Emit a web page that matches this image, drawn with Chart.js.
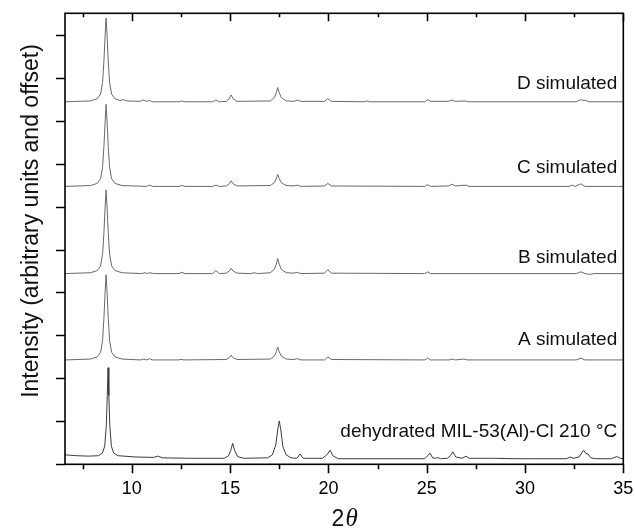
<!DOCTYPE html>
<html>
<head>
<meta charset="utf-8">
<script src="https://cdn.jsdelivr.net/npm/chart.js@4.4.0/dist/chart.umd.min.js"></script>
<style>
  html, body { margin: 0; padding: 0; background: #fff; }
  #wrap { width: 635px; height: 529px; }
</style>
</head>
<body>
<div id="wrap"><canvas id="xrdChart" width="635" height="529"></canvas></div>
<script>
// 2theta (deg) / intensity pairs, intensity measured from each pattern's own baseline
const dehydrated = [
  [6.6, 0.22], [7.2, 0.2], [7.8, 0.19], [8.3, 0.2], [8.5, 0.26], [8.62, 0.42], [8.7, 0.9], [8.75, 1.6],
  [8.79, 2.25], [8.83, 1.6], [8.88, 0.9], [8.96, 0.42], [9.08, 0.26], [9.3, 0.2], [10.2, 0.17], [11.1, 0.16],
  [11.32, 0.19], [11.55, 0.15], [13.0, 0.14], [14.7, 0.14], [14.92, 0.2], [15.03, 0.32], [15.13, 0.49],
  [15.23, 0.32], [15.38, 0.18], [15.7, 0.14], [16.9, 0.15], [17.15, 0.22], [17.32, 0.45], [17.42, 0.8],
  [17.5, 1.01], [17.58, 0.8], [17.68, 0.42], [17.85, 0.22], [18.1, 0.15], [18.4, 0.14], [18.56, 0.24],
  [18.72, 0.14], [19.7, 0.14], [19.92, 0.22], [20.09, 0.33], [20.22, 0.2], [20.5, 0.13], [22.0, 0.13],
  [24.9, 0.13], [25.05, 0.2], [25.17, 0.26], [25.3, 0.15], [25.45, 0.14], [25.56, 0.16], [25.7, 0.13],
  [26.05, 0.14], [26.2, 0.2], [26.33, 0.29], [26.48, 0.17], [26.8, 0.14], [27.0, 0.19], [27.15, 0.14],
  [28.4, 0.14], [29.5, 0.13], [30.5, 0.13], [32.1, 0.13], [32.3, 0.17], [32.45, 0.14], [32.75, 0.17],
  [32.98, 0.33], [33.1, 0.25], [33.2, 0.24], [33.35, 0.15], [33.6, 0.13], [34.4, 0.13], [34.67, 0.18],
  [34.85, 0.14], [35.0, 0.13]
];

const aSim = [
  [6.6, 0.0], [7.9, 0.02], [8.24, 0.07], [8.41, 0.18], [8.51, 0.45], [8.58, 0.97], [8.64, 1.58], [8.69, 1.98],
  [8.74, 1.58], [8.8, 0.97], [8.87, 0.45], [8.97, 0.18], [9.14, 0.07], [9.5, 0.02], [10.45, 0.0], [10.6, 0.02],
  [10.75, 0.0], [10.9, 0.03], [11.05, 0.0], [12.35, 0.0], [12.5, 0.01], [12.65, 0.0], [14.8, 0.01],
  [14.95, 0.05], [15.05, 0.11], [15.15, 0.05], [15.35, 0.01], [17.05, 0.02], [17.25, 0.09], [17.35, 0.19],
  [17.42, 0.3], [17.5, 0.19], [17.6, 0.09], [17.85, 0.02], [18.25, 0.01], [18.42, 0.03], [18.6, 0.0],
  [19.8, 0.0], [19.97, 0.07], [20.15, 0.01], [24.9, 0.0], [25.04, 0.04], [25.2, 0.0], [26.15, 0.0],
  [26.3, 0.02], [26.45, 0.0], [26.9, 0.02], [27.05, 0.0], [32.6, 0.0], [32.84, 0.04], [33.05, 0.0], [35.0, 0.0]
];

const bSim = [
  [6.6, 0.0], [7.9, 0.02], [8.24, 0.07], [8.41, 0.18], [8.51, 0.45], [8.58, 0.95], [8.64, 1.55], [8.69, 1.95],
  [8.74, 1.55], [8.8, 0.95], [8.87, 0.45], [8.97, 0.18], [9.14, 0.07], [9.5, 0.02], [10.5, 0.0], [10.67, 0.02],
  [10.8, 0.0], [10.93, 0.02], [11.1, 0.0], [12.4, 0.0], [12.54, 0.03], [12.7, 0.0], [14.1, 0.0], [14.28, 0.07],
  [14.45, 0.0], [14.8, 0.01], [14.95, 0.06], [15.05, 0.12], [15.15, 0.06], [15.35, 0.01], [16.05, 0.0],
  [16.22, 0.02], [16.4, 0.0], [17.05, 0.02], [17.25, 0.1], [17.35, 0.22], [17.42, 0.35], [17.5, 0.22],
  [17.6, 0.1], [17.85, 0.02], [18.25, 0.01], [18.42, 0.03], [18.6, 0.0], [19.8, 0.01], [19.97, 0.09],
  [20.15, 0.01], [24.9, 0.0], [25.04, 0.04], [25.2, 0.0], [32.6, 0.0], [32.84, 0.04], [33.05, 0.0],
  [33.3, -0.02], [33.5, 0.0], [35.0, 0.0]
];

const cSim = [
  [6.6, 0.0], [7.9, 0.02], [8.24, 0.07], [8.41, 0.18], [8.51, 0.44], [8.58, 0.93], [8.64, 1.5], [8.69, 1.91],
  [8.74, 1.5], [8.8, 0.93], [8.87, 0.44], [8.97, 0.18], [9.14, 0.07], [9.5, 0.02], [10.75, 0.0], [10.9, 0.03],
  [11.05, 0.0], [12.4, 0.0], [12.54, 0.02], [12.7, 0.0], [14.1, 0.0], [14.28, 0.03], [14.45, 0.0],
  [14.8, 0.01], [14.95, 0.06], [15.05, 0.13], [15.15, 0.06], [15.35, 0.01], [17.05, 0.02], [17.25, 0.09],
  [17.35, 0.18], [17.42, 0.28], [17.5, 0.18], [17.6, 0.09], [17.85, 0.02], [18.25, 0.01], [18.42, 0.03],
  [18.6, 0.0], [19.8, 0.01], [19.97, 0.07], [20.15, 0.01], [24.9, 0.0], [25.04, 0.04], [25.2, 0.0],
  [26.1, 0.01], [26.28, 0.05], [26.45, 0.01], [27.0, 0.03], [27.15, 0.0], [32.25, 0.0], [32.4, 0.03],
  [32.55, 0.0], [32.84, 0.06], [33.05, 0.0], [35.0, 0.0]
];

const dSim = [
  [6.6, 0.0], [7.9, 0.02], [8.24, 0.07], [8.41, 0.18], [8.51, 0.45], [8.58, 0.95], [8.64, 1.55], [8.69, 1.95],
  [8.74, 1.55], [8.8, 0.95], [8.87, 0.45], [8.97, 0.18], [9.14, 0.07], [9.4, 0.03], [9.57, 0.05], [9.75, 0.02],
  [10.4, 0.01], [10.58, 0.04], [10.74, 0.01], [10.89, 0.03], [11.05, 0.0], [12.4, 0.0], [12.54, 0.02],
  [12.7, 0.0], [14.1, 0.0], [14.28, 0.04], [14.45, 0.0], [14.8, 0.01], [14.95, 0.07], [15.05, 0.16],
  [15.15, 0.07], [15.35, 0.01], [17.05, 0.02], [17.25, 0.1], [17.35, 0.21], [17.42, 0.33], [17.5, 0.21],
  [17.6, 0.1], [17.85, 0.02], [18.25, 0.01], [18.42, 0.04], [18.6, 0.01], [19.8, 0.01], [19.97, 0.07],
  [20.15, 0.01], [21.8, 0.0], [21.95, 0.02], [22.1, 0.0], [24.9, 0.0], [25.04, 0.05], [25.2, 0.01],
  [26.1, 0.01], [26.28, 0.04], [26.45, 0.01], [26.96, 0.02], [27.1, 0.0], [32.6, 0.0], [32.84, 0.05],
  [33.0, 0.03], [33.06, 0.04], [33.25, 0.0], [35.0, 0.0]
];

const patterns = [dehydrated, aSim, bSim, cSim, dSim];
const patternNames = ['dehydrated MIL-53(Al)-Cl 210 °C', 'A simulated', 'B simulated', 'C simulated', 'D simulated'];
const offsets = [0, 2.43, 4.44, 6.47, 8.44];

const xLabelTicks = [10, 15, 20, 25, 30, 35];
const xMinorTicks = [7.5, 12.5, 17.5, 22.5, 27.5, 32.5];
const yTicks = [0, 1, 2, 3, 4, 5, 6, 7, 8, 9, 10];

// where the pattern names sit (right edge, in data units)
const nameX = 34.69;
const nameY = [0.75, 2.89, 4.8, 6.91, 8.87];

const frameAndTicks = {
  id: 'frameAndTicks',
  afterDraw(chart) {
    const { ctx, chartArea: a, scales: { x, y } } = chart;
    ctx.save();
    ctx.strokeStyle = '#000';
    ctx.lineWidth = 1.6;
    ctx.strokeRect(a.left, a.top, a.right - a.left, a.bottom - a.top);

    ctx.beginPath();
    xLabelTicks.forEach((v) => {
      const px = Math.round(x.getPixelForValue(v)) + 0.5;
      ctx.moveTo(px, a.bottom); ctx.lineTo(px, a.bottom + 9);
      ctx.moveTo(px, a.top); ctx.lineTo(px, a.top + 8);
    });
    xMinorTicks.forEach((v) => {
      const px = Math.round(x.getPixelForValue(v)) + 0.5;
      ctx.moveTo(px, a.bottom); ctx.lineTo(px, a.bottom + 5);
      ctx.moveTo(px, a.top); ctx.lineTo(px, a.top + 4);
    });
    yTicks.forEach((v) => {
      const py = Math.round(y.getPixelForValue(v)) + 0.5;
      ctx.moveTo(a.left - 9, py); ctx.lineTo(a.left, py);
    });
    ctx.stroke();

    // pattern names
    ctx.fillStyle = '#111';
    ctx.font = '19px "Liberation Sans", Arial, sans-serif';
    ctx.textAlign = 'right';
    ctx.textBaseline = 'middle';
    patternNames.forEach((name, i) => {
      ctx.fillText(name, x.getPixelForValue(nameX), y.getPixelForValue(nameY[i]));
    });

    // y title
    ctx.save();
    ctx.translate(38, 221);
    ctx.rotate(-Math.PI / 2);
    ctx.textAlign = 'center';
    ctx.textBaseline = 'alphabetic';
    ctx.font = '23px "Liberation Sans", Arial, sans-serif';
    ctx.fillText('Intensity (arbitrary units and offset)', 0, 0);
    ctx.restore();

    // x title: "2" upright, theta italic serif
    const cx = (a.left + a.right) / 2;
    ctx.textAlign = 'left';
    ctx.textBaseline = 'alphabetic';
    ctx.font = '23px "Liberation Sans", Arial, sans-serif';
    const w2 = ctx.measureText('2').width;
    ctx.font = 'italic 25px "Liberation Serif", "Times New Roman", serif';
    const wt = ctx.measureText('θ').width;
    const start = cx - (w2 + wt) / 2;
    ctx.font = '23px "Liberation Sans", Arial, sans-serif';
    ctx.fillText('2', start, 526);
    ctx.font = 'italic 25px "Liberation Serif", "Times New Roman", serif';
    ctx.fillText('θ', start + w2 + 1, 526);
    ctx.restore();
  }
};

const datasets = patterns.map((p, i) => ({
  label: patternNames[i],
  data: p.map(([tt, v]) => ({ x: tt, y: v + offsets[i] })),
  borderColor: i === 0 ? '#3c3c3c' : '#6a6a6a',
  borderWidth: 1,
  pointRadius: 0,
  tension: 0,
  fill: false,
}));

new Chart(document.getElementById('xrdChart'), {
  type: 'line',
  data: { datasets },
  plugins: [frameAndTicks],
  options: {
    responsive: false,
    animation: false,
    devicePixelRatio: 1,
    layout: { padding: { left: 0, right: 11.7, top: 13.3, bottom: 0 } },
    plugins: {
      legend: { display: false },
      tooltip: { enabled: false },
    },
    scales: {
      x: {
        type: 'linear',
        min: 6.6,
        max: 35,
        grid: { display: false, drawTicks: false },
        border: { display: false },
        afterBuildTicks: (scale) => { scale.ticks = xLabelTicks.map((v) => ({ value: v })); },
        afterFit: (scale) => {
          scale.height = 64.7;
          scale.paddingLeft = 0;
          scale.paddingRight = 0;
        },
        ticks: {
          padding: 14,
          maxRotation: 0,
          autoSkip: false,
          color: '#000',
          font: { family: '"Liberation Sans", Arial, sans-serif', size: 18 },
          callback: (value) => value,
        },
      },
      y: {
        min: 0,
        max: 10.5,
        grid: { display: false, drawTicks: false },
        border: { display: false },
        afterFit: (scale) => {
          scale.width = 65;
          scale.paddingTop = 0;
          scale.paddingBottom = 0;
        },
        ticks: { display: false, stepSize: 1 },
      },
    },
  },
});
</script>
</body>
</html>
